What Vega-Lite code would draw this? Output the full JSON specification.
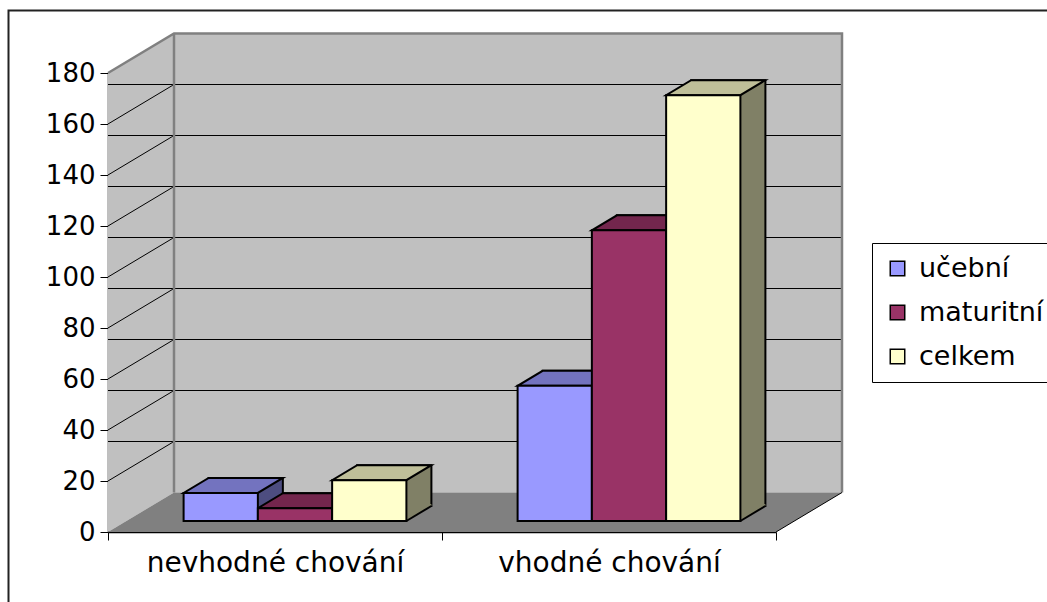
{
  "$schema": "https://vega.github.io/schema/vega-lite/v6.json",
  "width": 668,
  "height": 459,
  "autosize": "none",
  "padding": {"left": 108, "top": 73, "right": 271, "bottom": 70},
  "background": "white",
  "config": {
    "view": {"stroke": null},
    "font": "DejaVu Sans",
    "axisX": {"labelAngle": 0, "labelFont": "DejaVu Sans", "labelFontSize": 28, "labelColor": "black", "labelLimit": 500, "tickSize": 8, "tickColor": "black", "tickWidth": 1, "domainColor": "black", "domainWidth": 1.5, "labelPadding": 9, "grid": false, "zindex": 1},
    "axisY": {"labelFont": "DejaVu Sans", "labelFontSize": 26, "labelColor": "black", "tickSize": 8, "tickColor": "black", "tickWidth": 1, "domainColor": "black", "domainWidth": 1.5, "labelPadding": 5, "grid": false, "zindex": 1}
  },
  "datasets": {
    "bars": [
      {"skupina": "nevhodné chování", "typ": "učební", "pocet": 11},
      {"skupina": "nevhodné chování", "typ": "maturitní", "pocet": 5},
      {"skupina": "nevhodné chování", "typ": "celkem", "pocet": 16},
      {"skupina": "vhodné chování", "typ": "učební", "pocet": 53},
      {"skupina": "vhodné chování", "typ": "maturitní", "pocet": 114},
      {"skupina": "vhodné chování", "typ": "celkem", "pocet": 167}
    ],
    "grid": [{"v": 20}, {"v": 40}, {"v": 60}, {"v": 80}, {"v": 100}, {"v": 120}, {"v": 140}, {"v": 160}],
    "kotva": [{"k": 0}]
  },
  "resolve": {"scale": {"xOffset": "independent", "fill": "independent"}},
  "layer": [
    {
      "data": {"name": "kotva"},
      "mark": {"type": "point", "shape": "M-334,-459L-268,-498.5L400,-498.5L400,-39.5L-268,-39.5L-334,0Z", "size": 4, "filled": true, "fill": "#C0C0C0", "strokeWidth": 0, "opacity": 1},
      "encoding": {"y": {"datum": 0, "type": "quantitative", "title": null, "scale": {"domain": [0, 180], "nice": false}}}
    },
    {
      "data": {"name": "kotva"},
      "mark": {"type": "point", "shape": "M-334,0L-268,-39.5L400,-39.5L334,0Z", "size": 4, "filled": true, "fill": "#808080", "strokeWidth": 0, "opacity": 1},
      "encoding": {"y": {"datum": 0, "type": "quantitative", "title": null, "scale": {"domain": [0, 180], "nice": false}}}
    },
    {
      "data": {"name": "grid"},
      "mark": {"type": "rule", "color": "black", "strokeWidth": 1, "xOffset": 66, "x2Offset": 66, "yOffset": -39.5},
      "encoding": {"y": {"field": "v", "type": "quantitative", "title": null, "scale": {"domain": [0, 180], "nice": false}}}
    },
    {
      "data": {"name": "grid"},
      "mark": {"type": "point", "shape": "M-334,0L-268,-39.5", "size": 4, "filled": false, "stroke": "black", "strokeWidth": 1, "opacity": 1},
      "encoding": {"y": {"field": "v", "type": "quantitative", "title": null, "scale": {"domain": [0, 180], "nice": false}}}
    },
    {
      "data": {"name": "kotva"},
      "mark": {"type": "point", "shape": "M-334,-459L-268,-498.5L400,-498.5L400,-39.5M-268,-498.5L-268,-39.5", "size": 4, "filled": false, "stroke": "#808080", "strokeWidth": 2.5, "opacity": 1},
      "encoding": {"y": {"datum": 0, "type": "quantitative", "title": null, "scale": {"domain": [0, 180], "nice": false}}}
    },
    {
      "data": {"name": "kotva"},
      "mark": {"type": "point", "shape": "M334,0L400,-39.5", "size": 4, "filled": false, "stroke": "black", "strokeWidth": 1, "opacity": 1},
      "encoding": {"y": {"datum": 0, "type": "quantitative", "title": null, "scale": {"domain": [0, 180], "nice": false}}}
    },
    {
      "data": {"name": "kotva"},
      "mark": {"type": "point", "shape": "M-433.5,70L-433.5,-521.5L605,-521.5", "size": 4, "filled": false, "stroke": "#222222", "strokeWidth": 2, "opacity": 1},
      "encoding": {"y": {"datum": 0, "type": "quantitative", "title": null, "scale": {"domain": [0, 180], "nice": false}}}
    },
    {
      "data": {"name": "bars"},
      "mark": {"type": "bar", "stroke": "black", "strokeWidth": 2, "yOffset": -26, "y2Offset": -26},
      "encoding": {
        "x": {"field": "skupina", "type": "nominal", "title": null, "sort": ["nevhodné chování", "vhodné chování"], "scale": {"type": "band", "paddingInner": 0, "paddingOuter": 0}},
        "xOffset": {"field": "typ", "type": "nominal", "sort": ["učební", "maturitní", "celkem"], "scale": {"type": "band", "paddingInner": 0, "paddingOuter": 0, "range": [100.6, 323.4]}},
        "y": {"field": "pocet", "type": "quantitative", "title": null, "stack": null, "scale": {"domain": [0, 180], "nice": false}},
        "y2": {"datum": 0},
        "fill": {"field": "typ", "type": "nominal", "scale": {"domain": ["učební", "maturitní", "celkem"], "range": ["#4D4D80", "#4D1A33", "#808066"]}, "legend": null}
      }
    },
    {
      "data": {"name": "bars"},
      "mark": {"type": "point", "shape": "M37.1,0L37.1,-17L62.1,-17L62.1,-15Z", "size": 4, "filled": true, "strokeWidth": 0, "opacity": 1, "yOffset": -11},
      "encoding": {
        "x": {"field": "skupina", "type": "nominal", "title": null, "sort": ["nevhodné chování", "vhodné chování"], "scale": {"type": "band", "paddingInner": 0, "paddingOuter": 0}},
        "xOffset": {"field": "typ", "type": "nominal", "sort": ["učební", "maturitní", "celkem"], "scale": {"type": "band", "paddingInner": 0, "paddingOuter": 0, "range": [75.6, 298.4]}},
        "y": {"datum": 0, "type": "quantitative", "title": null, "scale": {"domain": [0, 180], "nice": false}},
        "fill": {"field": "typ", "type": "nominal", "scale": {"domain": ["učební", "maturitní", "celkem"], "range": ["#4D4D80", "#4D1A33", "#808066"]}, "legend": null}
      }
    },
    {
      "data": {"name": "bars"},
      "mark": {"type": "point", "shape": "M37.1,0L62.1,-15", "size": 4, "filled": false, "stroke": "black", "strokeWidth": 2, "opacity": 1, "yOffset": -11},
      "encoding": {
        "x": {"field": "skupina", "type": "nominal", "title": null, "sort": ["nevhodné chování", "vhodné chování"], "scale": {"type": "band", "paddingInner": 0, "paddingOuter": 0}},
        "xOffset": {"field": "typ", "type": "nominal", "sort": ["učební", "maturitní", "celkem"], "scale": {"type": "band", "paddingInner": 0, "paddingOuter": 0, "range": [75.6, 298.4]}},
        "y": {"datum": 0, "type": "quantitative", "title": null, "scale": {"domain": [0, 180], "nice": false}}
      }
    },
    {
      "data": {"name": "bars"},
      "mark": {"type": "point", "shape": "M-37.1,0L37.1,0L62.1,-15L-12.1,-15Z", "size": 4, "filled": true, "stroke": "black", "strokeWidth": 2, "opacity": 1, "yOffset": -11},
      "encoding": {
        "x": {"field": "skupina", "type": "nominal", "title": null, "sort": ["nevhodné chování", "vhodné chování"], "scale": {"type": "band", "paddingInner": 0, "paddingOuter": 0}},
        "xOffset": {"field": "typ", "type": "nominal", "sort": ["učební", "maturitní", "celkem"], "scale": {"type": "band", "paddingInner": 0, "paddingOuter": 0, "range": [75.6, 298.4]}},
        "y": {"field": "pocet", "type": "quantitative", "title": null, "scale": {"domain": [0, 180], "nice": false}},
        "fill": {"field": "typ", "type": "nominal", "scale": {"domain": ["učební", "maturitní", "celkem"], "range": ["#7373BF", "#73264D", "#BFBF99"]}, "legend": null}
      }
    },
    {
      "data": {"name": "bars"},
      "mark": {"type": "bar", "stroke": "black", "strokeWidth": 2, "yOffset": -11, "y2Offset": -11},
      "encoding": {
        "x": {"field": "skupina", "type": "nominal", "title": null, "sort": ["nevhodné chování", "vhodné chování"], "scale": {"type": "band", "paddingInner": 0, "paddingOuter": 0},
          "axis": {"tickBand": "extent", "labelLimit": 500}},
        "xOffset": {"field": "typ", "type": "nominal", "sort": ["učební", "maturitní", "celkem"], "scale": {"type": "band", "paddingInner": 0, "paddingOuter": 0, "range": [75.6, 298.4]}},
        "y": {"field": "pocet", "type": "quantitative", "title": null, "stack": null, "scale": {"domain": [0, 180], "nice": false},
          "axis": {"values": [0, 20, 40, 60, 80, 100, 120, 140, 160, 180]}},
        "y2": {"datum": 0},
        "color": {"field": "typ", "type": "nominal", "sort": ["učební", "maturitní", "celkem"],
          "scale": {"domain": ["učební", "maturitní", "celkem"], "range": ["#9999FF", "#993366", "#FFFFCC"]},
          "legend": {"title": null, "orient": "none", "legendX": 764, "legendY": 170, "symbolType": "square", "symbolSize": 210, "symbolStrokeColor": "black", "symbolStrokeWidth": 1.5, "labelFont": "DejaVu Sans", "labelFontSize": 27, "labelColor": "black", "rowPadding": 16, "padding": 12, "strokeColor": "black", "fillColor": "white", "labelOffset": 8, "labelLimit": 400}}
      }
    }
  ]
}
